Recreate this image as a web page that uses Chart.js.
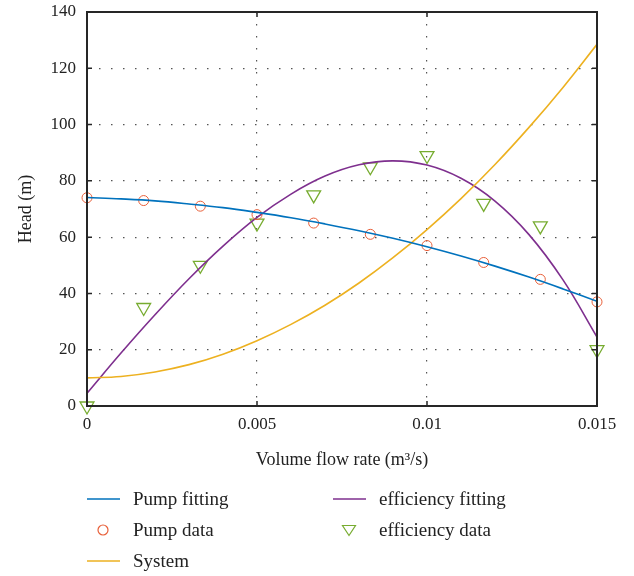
<!DOCTYPE html>
<html>
<head>
<meta charset="utf-8">
<script src="https://cdn.jsdelivr.net/npm/chart.js@4.4.1/dist/chart.umd.min.js"></script>
<style>
  body { margin: 0; background: #fff; }
  #wrap { width: 634px; height: 576px; }
</style>
</head>
<body>
<div id="wrap"><canvas id="pumpChart" width="634" height="576"></canvas></div>
<script>
// fitted curves
const flowFit = [0, 0.001, 0.002, 0.003, 0.004, 0.005, 0.006, 0.007, 0.008, 0.009, 0.010, 0.011, 0.012, 0.013, 0.014, 0.015];
const pumpFit = [74.1, 73.6, 72.9, 71.8, 70.5, 68.8, 66.9, 64.7, 62.3, 59.6, 56.6, 53.3, 49.7, 45.8, 41.6, 37.2];
const systemFit = [10, 10.5, 12.1, 14.7, 18.4, 23.2, 29.0, 35.8, 43.7, 52.7, 62.7, 73.7, 85.8, 99.0, 113.2, 128.5];
const effFit = [4.5, 18.8, 32.4, 45.2, 56.8, 67.0, 75.3, 81.7, 85.7, 87.1, 85.6, 80.9, 72.8, 60.9, 44.8, 24.5];

// measured points
const flowData = [0, 0.001667, 0.003333, 0.005, 0.006667, 0.008333, 0.01, 0.011667, 0.013333, 0.015];
const pumpData = [74, 73, 71, 68, 65, 61, 57, 51, 45, 37];
const effData = [0, 35, 50, 65, 75, 85, 89, 72, 64, 20];

const xTickLabels = ['0', '0.005', '0.01', '0.015'];

function pairs(xs, ys) {
    return xs.map((x, i) => ({ x: x, y: ys[i] }));
}

const serif = "'Liberation Serif', 'DejaVu Serif', serif";

// box round the plot + inward tick marks
const framePlugin = {
    id: 'frame',
    afterDraw(chart) {
        const ctx = chart.ctx;
        const a = chart.chartArea;
        const xs = chart.scales.x, ys = chart.scales.y;
        ctx.save();
        ctx.strokeStyle = '#262626';
        ctx.lineWidth = 1.5;
        ctx.beginPath();
        xs.ticks.forEach(t => {
            const px = xs.getPixelForValue(t.value);
            ctx.moveTo(px, a.bottom); ctx.lineTo(px, a.bottom - 5);
            ctx.moveTo(px, a.top); ctx.lineTo(px, a.top + 5);
        });
        ys.ticks.forEach(t => {
            const py = ys.getPixelForValue(t.value);
            ctx.moveTo(a.left, py); ctx.lineTo(a.left + 5, py);
            ctx.moveTo(a.right, py); ctx.lineTo(a.right - 5, py);
        });
        ctx.stroke();
        ctx.lineWidth = 2;
        ctx.strokeRect(a.left, a.top, a.right - a.left, a.bottom - a.top);
        ctx.restore();
    }
};

// legend under the chart, 3 rows x 2 columns
const legendPlugin = {
    id: 'legendBelow',
    afterDraw(chart) {
        const ctx = chart.ctx;
        const a = chart.chartArea;
        ctx.save();
        ctx.font = '19px ' + serif;
        ctx.textBaseline = 'middle';
        ctx.fillStyle = '#222';
        chart.data.datasets.forEach((ds, i) => {
            const col = Math.floor(i / 3), row = i % 3;
            const x0 = a.left + col * 246;
            const y = a.bottom + 93 + row * 31;
            ctx.strokeStyle = ds.borderColor;
            if (ds.showLine === false) {
                ctx.lineWidth = 1.2;
                ctx.beginPath();
                if (ds.pointStyle === 'triangle') {
                    ctx.moveTo(x0 + 16 - 6.5, y - 4.5);
                    ctx.lineTo(x0 + 16 + 6.5, y - 4.5);
                    ctx.lineTo(x0 + 16, y + 5.5);
                    ctx.closePath();
                } else {
                    ctx.arc(x0 + 16, y, 5, 0, Math.PI * 2);
                }
                ctx.stroke();
            } else {
                ctx.lineWidth = 1.6;
                ctx.beginPath();
                ctx.moveTo(x0, y); ctx.lineTo(x0 + 33, y);
                ctx.stroke();
            }
            ctx.fillText(ds.label, x0 + 46, y + 1);
        });
        ctx.restore();
    }
};

const lineStyle = { showLine: true, pointRadius: 0, borderWidth: 1.6, tension: 0.4, fill: false };

new Chart(document.getElementById('pumpChart'), {
    type: 'scatter',
    data: {
        datasets: [
            Object.assign({ label: 'Pump fitting', data: pairs(flowFit, pumpFit), borderColor: '#0072bd' }, lineStyle),
            { label: 'Pump data', data: pairs(flowData, pumpData), showLine: false, pointStyle: 'circle',
              pointRadius: 5, borderColor: '#e8603a', backgroundColor: 'rgba(0,0,0,0)', pointBorderWidth: 1, clip: false },
            Object.assign({ label: 'System', data: pairs(flowFit, systemFit), borderColor: '#edb120' }, lineStyle),
            Object.assign({ label: 'efficiency fitting', data: pairs(flowFit, effFit), borderColor: '#7e2f8e' }, lineStyle),
            { label: 'efficiency data', data: pairs(flowData, effData), showLine: false, pointStyle: 'triangle',
              pointRotation: 180, pointRadius: 8, borderColor: '#77ac30', backgroundColor: 'rgba(0,0,0,0)', pointBorderWidth: 1.3, clip: false }
        ]
    },
    options: {
        responsive: false,
        animation: false,
        layout: { padding: { left: 15, right: 37, top: 12, bottom: 105 } },
        plugins: { legend: { display: false }, tooltip: { enabled: false } },
        scales: {
            x: {
                type: 'linear', min: 0, max: 0.015,
                afterFit: s => { s.height = 65; s.paddingLeft = 0; s.paddingRight = 0; },
                ticks: { stepSize: 0.005, padding: 8, color: '#222', font: { family: serif, size: 17 },
                    callback: (v, i) => xTickLabels[i] },
                grid: { color: '#555', lineWidth: 1.2, drawTicks: false },
                border: { display: false, dash: [1.5, 10.5] },
                title: { display: true, text: 'Volume flow rate (m³/s)', color: '#222', padding: 0,
                    font: { family: serif, size: 18 } }
            },
            y: {
                min: 0, max: 140,
                afterFit: s => { s.width = 72; s.paddingTop = 0; s.paddingBottom = 0; },
                ticks: { stepSize: 20, padding: 11, color: '#222', font: { family: serif, size: 17 } },
                grid: { color: '#555', lineWidth: 1.2, drawTicks: false },
                border: { display: false, dash: [1.5, 10.5] },
                title: { display: true, text: 'Head (m)', color: '#222', padding: 0,
                    font: { family: serif, size: 18 } }
            }
        }
    },
    plugins: [framePlugin, legendPlugin]
});
</script>
</body>
</html>
